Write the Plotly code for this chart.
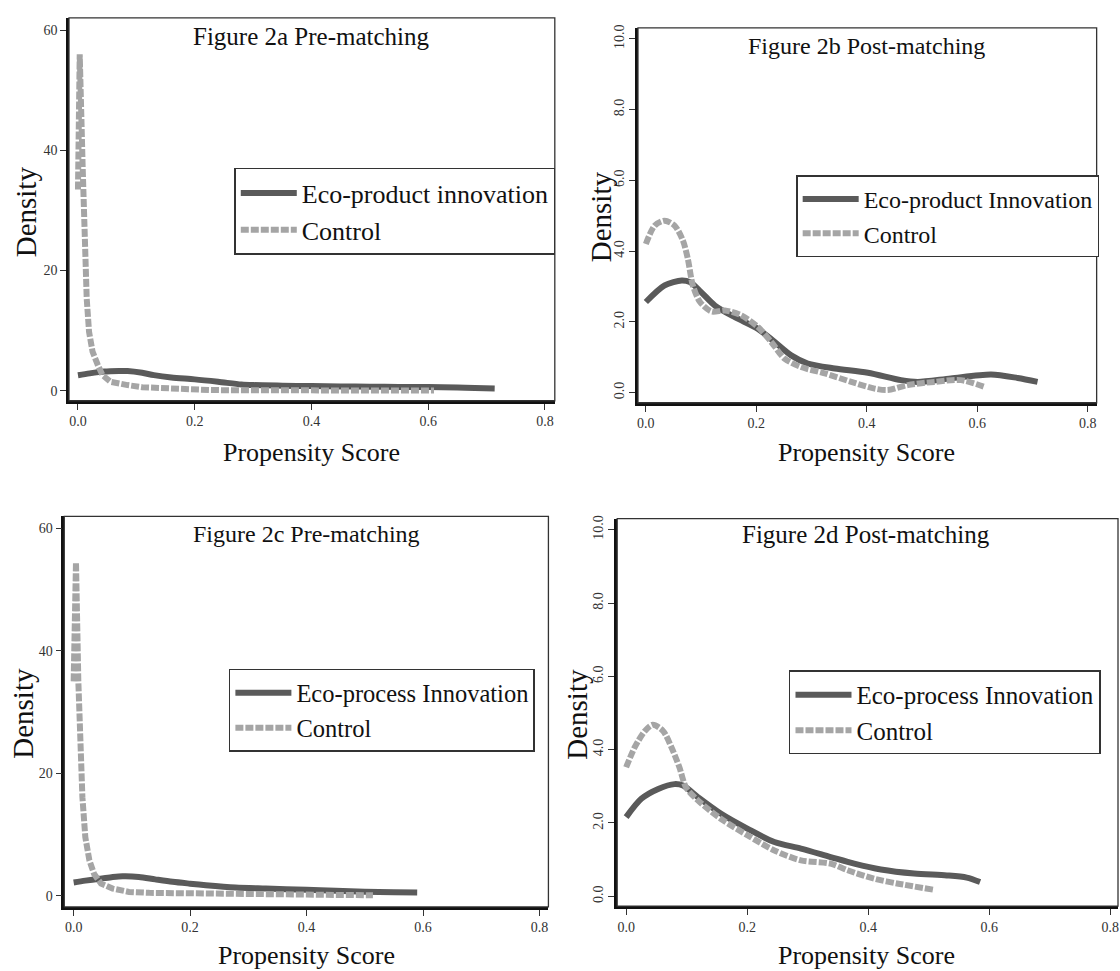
import plotly.graph_objects as go

W, H = 1120, 971

# ---------------- data ----------------
# Figure 2a Pre-matching
a_treat_x = [0.0, 0.02, 0.045, 0.07, 0.085, 0.11, 0.13, 0.16, 0.2, 0.24, 0.28, 0.3, 0.35, 0.4, 0.45, 0.5, 0.55, 0.6, 0.65, 0.68, 0.714]
a_treat_y = [2.6, 2.9, 3.2, 3.3, 3.3, 3.0, 2.6, 2.2, 1.9, 1.5, 1.05, 0.95, 0.85, 0.78, 0.72, 0.68, 0.65, 0.62, 0.55, 0.45, 0.38]
a_ctrl_x = [0.0, 0.003, 0.008, 0.011, 0.015, 0.019, 0.025, 0.034, 0.042, 0.056, 0.07, 0.085, 0.11, 0.142, 0.18, 0.227, 0.3, 0.4, 0.5, 0.61]
a_ctrl_y = [33.5, 56.0, 37.4, 26.4, 15.3, 9.8, 6.5, 4.3, 2.6, 1.5, 1.2, 0.95, 0.6, 0.4, 0.25, 0.12, 0.08, 0.06, 0.05, 0.05]

# Figure 2b Post-matching
b_treat_x = [0.0, 0.034, 0.065, 0.08, 0.1, 0.125, 0.161, 0.203, 0.233, 0.263, 0.293, 0.342, 0.402, 0.462, 0.492, 0.552, 0.625, 0.673, 0.709]
b_treat_y = [2.56, 3.03, 3.17, 3.12, 2.84, 2.46, 2.13, 1.8, 1.43, 1.05, 0.82, 0.68, 0.56, 0.35, 0.3, 0.4, 0.51, 0.41, 0.3]
b_ctrl_x = [0.0, 0.016, 0.034, 0.052, 0.067, 0.076, 0.085, 0.098, 0.119, 0.143, 0.173, 0.203, 0.227, 0.251, 0.281, 0.324, 0.372, 0.414, 0.438, 0.474, 0.522, 0.57, 0.613]
b_ctrl_y = [4.2, 4.72, 4.86, 4.72, 4.3, 3.78, 3.03, 2.56, 2.29, 2.32, 2.18, 1.85, 1.43, 0.96, 0.72, 0.54, 0.3, 0.11, 0.07, 0.21, 0.3, 0.35, 0.16]

# Figure 2c Pre-matching
c_treat_x = [0.0, 0.02, 0.044, 0.065, 0.084, 0.112, 0.14, 0.17, 0.2, 0.227, 0.278, 0.33, 0.4, 0.45, 0.5, 0.55, 0.59]
c_treat_y = [2.2, 2.5, 2.8, 3.05, 3.2, 3.1, 2.7, 2.3, 2.0, 1.75, 1.37, 1.2, 1.0, 0.85, 0.7, 0.6, 0.55]
c_ctrl_x = [0.0, 0.004, 0.008, 0.011, 0.015, 0.02, 0.027, 0.035, 0.047, 0.067, 0.095, 0.13, 0.2, 0.3, 0.4, 0.45, 0.514]
c_ctrl_y = [35.0, 54.4, 35.1, 24.3, 16.1, 9.6, 5.8, 3.6, 2.0, 1.2, 0.65, 0.5, 0.4, 0.25, 0.2, 0.15, 0.1]

# Figure 2d Post-matching
d_treat_x = [0.0, 0.025, 0.053, 0.08, 0.094, 0.119, 0.157, 0.201, 0.245, 0.289, 0.338, 0.377, 0.421, 0.476, 0.53, 0.563, 0.585]
d_treat_y = [2.16, 2.66, 2.93, 3.06, 3.02, 2.7, 2.25, 1.84, 1.48, 1.3, 1.07, 0.89, 0.73, 0.62, 0.57, 0.51, 0.39]
d_ctrl_x = [0.0, 0.014, 0.031, 0.044, 0.061, 0.075, 0.088, 0.099, 0.119, 0.157, 0.201, 0.245, 0.289, 0.338, 0.366, 0.41, 0.448, 0.508]
d_ctrl_y = [3.52, 4.06, 4.51, 4.68, 4.51, 4.06, 3.52, 2.97, 2.61, 2.11, 1.66, 1.25, 0.98, 0.89, 0.71, 0.48, 0.35, 0.18]

titles = ["Figure 2a Pre-matching", "Figure 2b Post-matching",
          "Figure 2c Pre-matching", "Figure 2d Post-matching"]
treat_names = ["Eco-product innovation", "Eco-product Innovation",
               "Eco-process Innovation", "Eco-process Innovation"]
ctrl_name = "Control"
x_title = "Propensity Score"
y_title = "Density"
x_ticks = [0.0, 0.2, 0.4, 0.6, 0.8]
y_ticks_pre = [0, 20, 40, 60]
y_ticks_post = [0.0, 2.0, 4.0, 6.0, 8.0, 10.0]

# ---------------- styling ----------------
FONT = "Liberation Serif"
DARK = "#5a5a5a"
LIGHT = "#a5a5a5"


def px(x):
    return x / W


def py(y):
    return 1 - y / H


panels = [
    dict(tx=a_treat_x, ty=a_treat_y, cx=a_ctrl_x, cy=a_ctrl_y,
         dom_x=[68.1, 554.8], dom_y=[15, 399], xr=[-0.0154, 0.817], yr=[-1.66, 62.04],
         yt=y_ticks_pre, yfmt="d", yang=0, ctrl_shape="linear",
         title_c=(311, 34), title_fs=25, xt_c=(311, 451), yt_c=(25, 209),
         leg=(233.7, 165.5), leg_fs=26),
    dict(tx=b_treat_x, ty=b_treat_y, cx=b_ctrl_x, cy=b_ctrl_y,
         dom_x=[638.1, 1097.6], dom_y=[25, 401], xr=[-0.0143, 0.816], yr=[-0.29, 10.31],
         yt=y_ticks_post, yfmt=".1f", yang=-90, ctrl_shape="spline",
         title_c=(867, 43), title_fs=24, xt_c=(867, 451), yt_c=(601, 214),
         leg=(796.6, 173), leg_fs=24),
    dict(tx=c_treat_x, ty=c_treat_y, cx=c_ctrl_x, cy=c_ctrl_y,
         dom_x=[63.4, 548.4], dom_y=[515, 906.7], xr=[-0.0161, 0.8154], yr=[-1.79, 61.9],
         yt=y_ticks_pre, yfmt="d", yang=0, ctrl_shape="linear",
         title_c=(306, 533), title_fs=24, xt_c=(306, 955), yt_c=(22, 712),
         leg=(228.3, 668), leg_fs=24.5),
    dict(tx=d_treat_x, ty=d_treat_y, cx=d_ctrl_x, cy=d_ctrl_y,
         dom_x=[617.3, 1119.0], dom_y=[517.3, 906], xr=[-0.0148, 0.813], yr=[-0.27, 10.3],
         yt=y_ticks_post, yfmt=".1f", yang=-90, ctrl_shape="spline",
         title_c=(867, 533), title_fs=25, xt_c=(867, 955), yt_c=(577, 713),
         leg=(789.4, 669.5), leg_fs=25),
]

fig = go.Figure()
annotations = []
shapes = []
layout = dict(
    width=W, height=H,
    margin=dict(l=0, r=0, t=0, b=0),
    paper_bgcolor="white", plot_bgcolor="white",
    font=dict(family=FONT, color="#222"),
    showlegend=True,
)

for i, p in enumerate(panels):
    n = i + 1
    xa = "x" if n == 1 else f"x{n}"
    ya = "y" if n == 1 else f"y{n}"
    leg = "legend" if n == 1 else f"legend{n}"

    fig.add_trace(go.Scatter(
        x=p["tx"], y=p["ty"], mode="lines", name=treat_names[i],
        line=dict(color=DARK, width=6, shape="spline", smoothing=0.8),
        xaxis=xa, yaxis=ya, legend=leg, hoverinfo="skip"))
    ctrl_line = dict(color=LIGHT, width=6, dash="8px,2px", shape=p["ctrl_shape"])
    if p["ctrl_shape"] == "spline":
        ctrl_line["smoothing"] = 0.8
    fig.add_trace(go.Scatter(
        x=p["cx"], y=p["cy"], mode="lines", name=ctrl_name,
        line=ctrl_line,
        xaxis=xa, yaxis=ya, legend=leg, hoverinfo="skip"))

    xkey = "xaxis" if n == 1 else f"xaxis{n}"
    ykey = "yaxis" if n == 1 else f"yaxis{n}"
    layout[xkey] = dict(
        domain=[px(p["dom_x"][0]), px(p["dom_x"][1])],
        range=p["xr"], anchor=ya,
        tickvals=x_ticks, tickformat=".1f",
        ticks="outside", ticklen=6, tickwidth=1, tickcolor="#333",
        showline=True, linecolor="#111", linewidth=2.5,
        showgrid=False, zeroline=False,
        tickfont=dict(family=FONT, size=14, color="#333"),
        fixedrange=True,
    )
    layout[ykey] = dict(
        domain=[py(p["dom_y"][1]), py(p["dom_y"][0])],
        range=p["yr"], anchor=xa,
        tickvals=p["yt"], tickformat=p["yfmt"], tickangle=p["yang"],
        ticks="outside", ticklen=6, tickwidth=1, tickcolor="#333",
        showline=True, linecolor="#111", linewidth=2.5,
        showgrid=False, zeroline=False,
        tickfont=dict(family=FONT, size=14, color="#333"),
        fixedrange=True,
    )
    # frame around the plotting area
    shapes.append(dict(type="rect", xref=f"{xa} domain", yref=f"{ya} domain",
                       x0=0, x1=1, y0=0, y1=1,
                       line=dict(color="#333", width=1.3), layer="above"))

    annotations.append(dict(text=titles[i], x=px(p["title_c"][0]), y=py(p["title_c"][1]),
                            xref="paper", yref="paper", showarrow=False,
                            xanchor="center", yanchor="middle",
                            font=dict(family=FONT, size=p["title_fs"], color="#111")))
    annotations.append(dict(text=x_title, x=px(p["xt_c"][0]), y=py(p["xt_c"][1]),
                            xref="paper", yref="paper", showarrow=False,
                            xanchor="center", yanchor="middle",
                            font=dict(family=FONT, size=26, color="#111")))
    annotations.append(dict(text=y_title, x=px(p["yt_c"][0]), y=py(p["yt_c"][1]),
                            xref="paper", yref="paper", showarrow=False, textangle=-90,
                            xanchor="center", yanchor="middle",
                            font=dict(family=FONT, size=29, color="#111")))

    layout[leg] = dict(
        x=px(p["leg"][0]), y=py(p["leg"][1]), xanchor="left", yanchor="top",
        bgcolor="white", bordercolor="#333", borderwidth=1.5,
        font=dict(family=FONT, size=p["leg_fs"], color="#111"),
        itemwidth=56, tracegroupgap=0,
    )

layout["annotations"] = annotations
layout["shapes"] = shapes
fig.update_layout(**layout)

fig.write_html(
    "out.html",
    config={"displayModeBar": False},
    post_script="document.body.style.margin='0';document.body.style.overflow='hidden';",
)
